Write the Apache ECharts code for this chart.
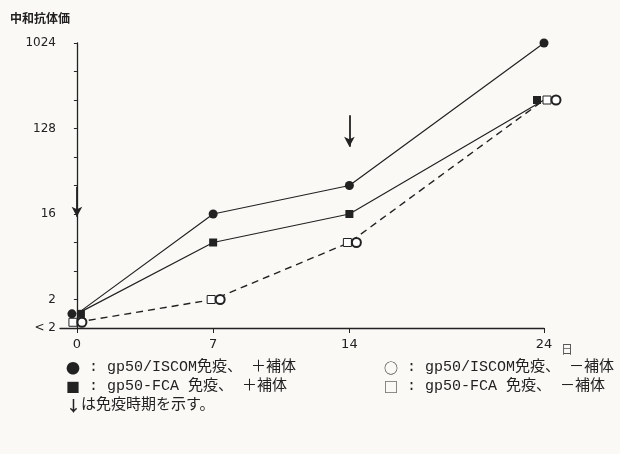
<!DOCTYPE html>
<html>
<head>
    <meta charset="utf-8">
    <title>中和抗体価</title>
    <script src="https://cdn.jsdelivr.net/npm/echarts@6/dist/echarts.min.js"></script>
</head>
<body style="margin:0;background:#faf9f6;">
<div id="main" style="width: 620px;height:454px;"></div>
<script type="text/javascript">
    // 日数（x軸）
    var days = [0, 7, 14, 24];
    // 中和抗体価（<2 はグラフ上で 2 の下に描く）
    var iscomPlus = [1.41, 16, 32, 1024];   // ● gp50/ISCOM免疫、+補体
    var fcaPlus = [1.41, 8, 16, 256];       // ■ gp50-FCA 免疫、+補体
    var iscomMinus = [1.15, 2, 8, 256];     // ○ gp50/ISCOM免疫、-補体
    var fcaMinus = [1.15, 2, 8, 256];       // □ gp50-FCA 免疫、-補体
    // y軸目盛ラベル（log2 の値 → 表示）
    var yTickLabels = {0: '< 2', 1: '2', 4: '16', 7: '128', 10: '1024'};
    // 免疫時期の矢印（日, 上端と下端の抗体価）
    var arrowDays = [0, 14];
    var arrowTop = [31, 177];
    var arrowBottom = [15, 82];

    var ink = '#222';
    var monoFont = '"Liberation Mono", "Noto Sans CJK JP", monospace';
    var cjkFont = '"Noto Sans CJK JP"';

    function pts(values) {
        return days.map(function (d, i) { return [d, Math.log2(values[i])]; });
    }
    // マーカーの横ずらし（重なり回避）
    function shifted(values, offsets) {
        return pts(values).map(function (p, i) {
            return {value: p, symbolOffset: [offsets[i], 0]};
        });
    }

    var arrows = arrowDays.map(function (d, i) {
        return [{coord: [d, Math.log2(arrowTop[i])]}, {coord: [d, Math.log2(arrowBottom[i])]}];
    });

    // 凡例テキスト（記号だけ和文フォント）
    var richStyle = {
        s: {fontFamily: cjkFont, fontSize: 14, fill: ink},
        a: {fontFamily: cjkFont, fontSize: 15, fontWeight: 'bold', fill: ink}
    };
    function legendText(left, top, text) {
        return {
            type: 'text', left: left, top: top,
            style: {text: text, fill: ink, fontFamily: monoFont, fontSize: 15, rich: richStyle}
        };
    }

    var myChart = echarts.init(document.getElementById('main'));
    var option = {
        backgroundColor: '#faf9f6',
        animation: false,
        title: {
            text: '中和抗体価',
            left: 5, top: 7,
            textStyle: {fontSize: 12, fontWeight: 'bold', color: ink, fontFamily: cjkFont}
        },
        grid: {left: 60, right: 76, top: 43, bottom: 126},
        xAxis: {
            type: 'value',
            min: -0.87, max: 24,
            axisLine: {lineStyle: {color: ink, width: 1.3}},
            axisTick: {customValues: days, length: 5, lineStyle: {color: ink}},
            axisLabel: {customValues: days, color: ink, fontSize: 13, margin: 10, fontFamily: 'DejaVu Sans'},
            splitLine: {show: false}
        },
        yAxis: {
            type: 'value',
            min: 0, max: 10, interval: 1,
            axisLine: {show: true, lineStyle: {color: ink, width: 1.3}},
            axisTick: {show: true, length: 3, lineStyle: {color: ink}},
            axisLabel: {
                color: ink, fontSize: 12, margin: 4, fontFamily: 'DejaVu Sans',
                formatter: function (v) { return yTickLabels[v] || ''; }
            },
            splitLine: {show: false}
        },
        series: [
            {
                name: '● gp50/ISCOM免疫、＋補体',
                type: 'line',
                data: shifted(iscomPlus, [-5, 0, 0, 0]),
                symbol: 'circle', symbolSize: 9,
                itemStyle: {color: ink},
                lineStyle: {color: ink, width: 1.2},
                markLine: {
                    silent: true,
                    symbol: ['none', 'arrow'], symbolSize: [8, 10],
                    label: {show: false},
                    lineStyle: {color: ink, width: 1.8, type: 'solid'},
                    data: arrows
                }
            },
            {
                name: '■ gp50-FCA 免疫、＋補体',
                type: 'line',
                data: shifted(fcaPlus, [4, 0, 0, -7]),
                symbol: 'rect', symbolSize: 8,
                itemStyle: {color: ink},
                lineStyle: {color: ink, width: 1.2}
            },
            {
                name: '□ gp50-FCA 免疫、－補体',
                type: 'line',
                data: shifted(fcaMinus, [-4, -2, -2, 3]),
                symbol: 'rect', symbolSize: 8,
                itemStyle: {color: '#fff', borderColor: ink, borderWidth: 1},
                lineStyle: {color: ink, width: 1.4, type: [7, 5]},
                z: 3
            },
            {
                name: '○ gp50/ISCOM免疫、－補体',
                type: 'line',
                data: shifted(iscomMinus, [5, 7, 7, 12]),
                symbol: 'emptyCircle', symbolSize: 9,
                itemStyle: {color: ink, borderWidth: 1},
                lineStyle: {width: 0, opacity: 0},
                z: 4
            }
        ],
        graphic: [
            {type: 'text', left: 561, top: 343, style: {text: '日', fill: '#555', fontFamily: cjkFont, fontSize: 12}},
            legendText(66, 360, '{s|●} : gp50/ISCOM免疫、 ＋補体'),
            legendText(66, 379, '{s|■} : gp50-FCA 免疫、 ＋補体'),
            legendText(66, 398, '{a|↓}は免疫時期を示す。'),
            legendText(384, 360, '{s|○} : gp50/ISCOM免疫、 －補体'),
            legendText(384, 379, '{s|□} : gp50-FCA 免疫、 －補体')
        ]
    };
    myChart.setOption(option);
</script>
</body>
</html>
